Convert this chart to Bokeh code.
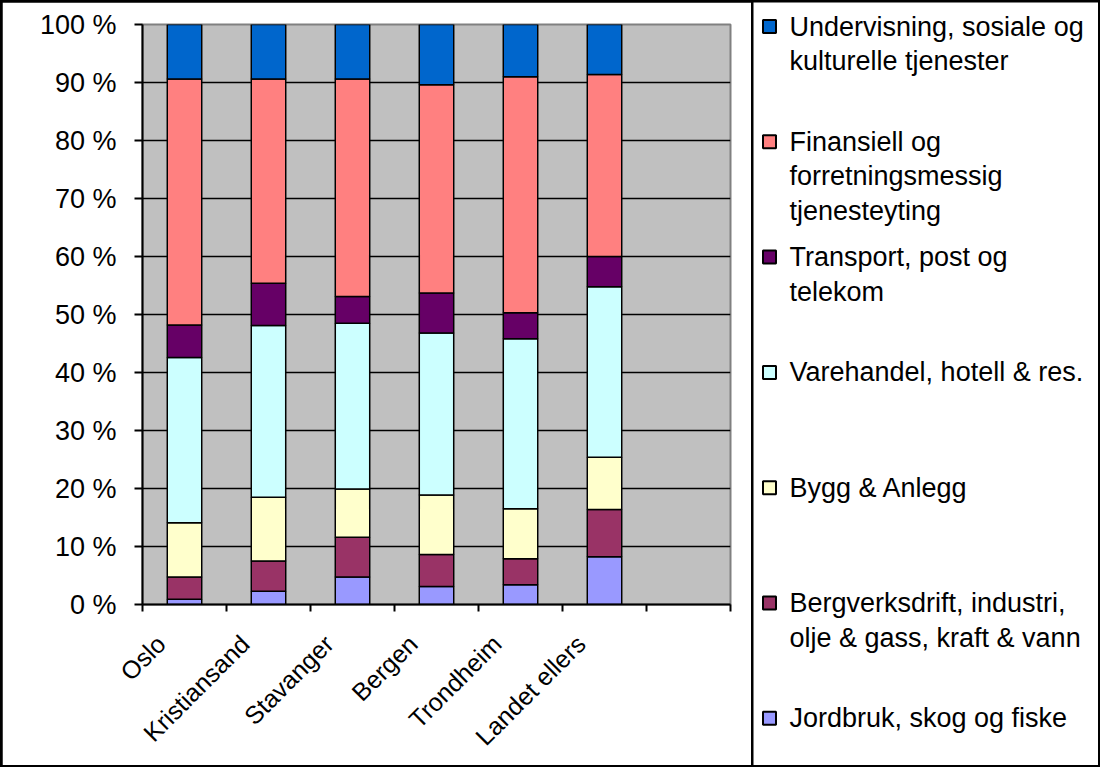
import numpy as np
from bokeh.plotting import figure
from bokeh.models import ColumnDataSource, FixedTicker, PrintfTickFormatter, Range1d
from bokeh.layouts import row
from bokeh.embed import file_html
from bokeh.resources import INLINE
from bokeh.core.properties import value

# ---------------- data ----------------
cities = ["Oslo", "Kristiansand", "Stavanger", "Bergen", "Trondheim", "Landet ellers"]
n_slots = 7  # the category axis has one more (empty) slot at the right

series_names = [
    "Jordbruk, skog og fiske",
    "Bergverksdrift, industri,\nolje & gass, kraft & vann",
    "Bygg & Anlegg",
    "Varehandel, hotell & res.",
    "Transport, post og\ntelekom",
    "Finansiell og\nforretningsmessig\ntjenesteyting",
    "Undervisning, sosiale og\nkulturelle tjenester",
]
jordbruk = [0.9, 2.3, 4.75, 3.1, 3.4, 8.25]
bergverk = [3.85, 5.2, 6.85, 5.5, 4.5, 8.15]
bygg = [9.35, 11.0, 8.3, 10.3, 8.6, 9.0]
varehandel = [28.5, 29.6, 28.6, 27.9, 29.3, 29.4]
transport = [5.6, 7.3, 4.6, 6.9, 4.5, 5.2]
finansiell = [42.4, 35.2, 37.5, 35.9, 40.7, 31.4]
undervisning = [9.4, 9.4, 9.4, 10.4, 9.0, 8.6]
y_ticks = list(range(0, 101, 10))

series_values = [jordbruk, bergverk, bygg, varehandel, transport, finansiell, undervisning]
colors = ["#9999FF", "#993366", "#FFFFCC", "#CCFFFF", "#660066", "#FF8080", "#0066CC"]

# normalise to 100 %
arr = np.array(series_values, dtype=float)
arr = arr / arr.sum(axis=0) * 100.0
keys = [f"s{i}" for i in range(len(series_values))]
data = {"x": [i + 0.5 for i in range(len(cities))]}
for k, v in zip(keys, arr):
    data[k] = list(v)
source = ColumnDataSource(data)

FONT = "Liberation Sans"

# ---------------- main chart ----------------
p = figure(width=749, height=763, x_range=Range1d(0, n_slots), y_range=Range1d(0, 100),
           output_backend="svg", toolbar_location=None,
           min_border_left=140, min_border_right=21, min_border_top=22, min_border_bottom=161)
p.background_fill_color = "#C0C0C0"
p.border_fill_color = "white"
p.outline_line_color = "#808080"
p.outline_line_width = 2

p.vbar_stack(keys, x="x", width=0.41, source=source, fill_color=colors,
             line_color="black", line_width=1.5)

p.xgrid.visible = False
p.ygrid.ticker = FixedTicker(ticks=y_ticks)
p.ygrid.grid_line_color = "black"
p.ygrid.grid_line_width = 1.3

yax = p.yaxis[0]
yax.ticker = FixedTicker(ticks=y_ticks)
yax.formatter = PrintfTickFormatter(format="%d %%")
yax.major_label_text_font = FONT
yax.major_label_text_font_size = "27px"
yax.major_label_text_color = "black"
yax.major_tick_out = 8
yax.major_tick_in = 0
yax.major_tick_line_width = 2
yax.major_tick_line_color = "black"
yax.minor_tick_line_color = None
yax.axis_line_width = 2
yax.axis_line_color = "black"
yax.major_label_standoff = 18

label_pos = [i + 0.22 for i in range(len(cities))]
xax = p.xaxis[0]
xax.ticker = FixedTicker(ticks=label_pos, minor_ticks=list(range(n_slots + 1)))
xax.major_label_overrides = {pos: c for pos, c in zip(label_pos, cities)}
xax.major_label_orientation = np.pi / 4
xax.major_label_text_font = FONT
xax.major_label_text_font_size = "25px"
xax.major_label_text_color = "black"
xax.major_label_standoff = 28
xax.major_tick_out = 0
xax.major_tick_in = 0
xax.minor_tick_out = 7
xax.minor_tick_in = 0
xax.minor_tick_line_width = 2
xax.minor_tick_line_color = "black"
xax.axis_line_width = 2
xax.axis_line_color = "black"

# ---------------- legend panel ----------------
LW, LH = 345, 763
p2 = figure(width=LW, height=LH, x_range=Range1d(0, LW), y_range=Range1d(LH, 0),
            output_backend="svg", toolbar_location=None, min_border=0,
            x_axis_location=None, y_axis_location=None)
p2.frame_align = False
p2.grid.visible = False
p2.outline_line_color = None
p2.background_fill_color = "white"
p2.border_fill_color = "white"

order = list(range(len(series_names)))[::-1]  # top of legend = top of stack
sw_x, sw_y, sw_c = [], [], []
tx, ty, tt = [], [], []
for j, si in enumerate(order):
    y0 = 24 + j * 115.3
    sw_x.append(16)
    sw_y.append(y0)
    sw_c.append(colors[si])
    for k, line in enumerate(series_names[si].split("\n")):
        tx.append(36)
        ty.append(y0 + k * 34.5)
        tt.append(line)
p2.rect(x=sw_x, y=sw_y, width=13, height=13, fill_color=sw_c, line_color="black", line_width=2)
p2.text(x=tx, y=ty, text=tt, text_font=value(FONT), text_font_size="27px",
        text_baseline="middle", text_align="left", text_color="black")

layout = row(p, p2, spacing=2,
             styles={"background-color": "black", "padding": "2px"})
open("out.html", "w").write(file_html(layout, INLINE))
